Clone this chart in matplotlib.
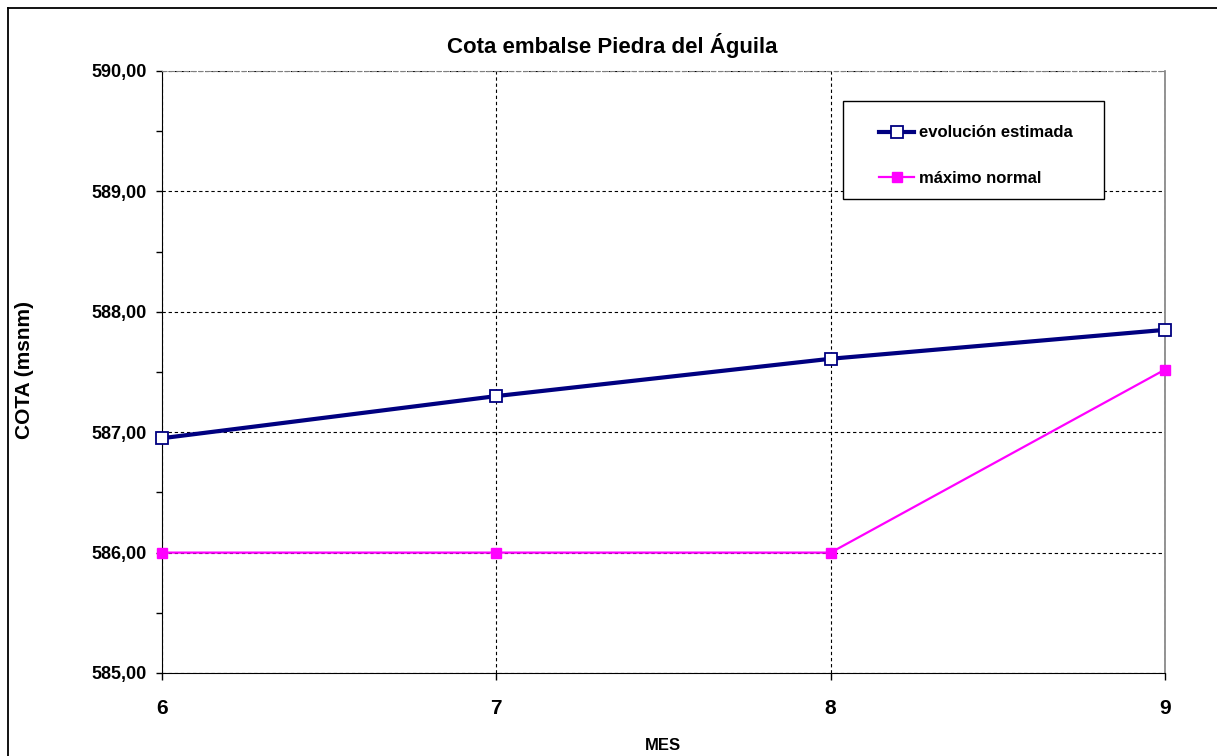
import matplotlib
matplotlib.use("Agg")
import matplotlib.pyplot as plt
from matplotlib.ticker import FuncFormatter, MultipleLocator
from matplotlib.lines import Line2D
from matplotlib.patches import Rectangle

# --- data ---
meses = [6, 7, 8, 9]
evolucion_estimada = [586.95, 587.30, 587.61, 587.85]
maximo_normal = [586.00, 586.00, 586.00, 587.52]

plt.rcParams['font.family'] = ['Liberation Sans', 'DejaVu Sans']
plt.rcParams['font.weight'] = 'bold'

W, H = 1217, 756
fig = plt.figure(figsize=(W / 100, H / 100), dpi=100)
ax = fig.add_axes([162 / W, 1 - 673 / H, (1165 - 162) / W, (673 - 71) / H])

ax.plot(meses, evolucion_estimada, color='#000080', lw=3, marker='s', ms=8,
        mfc='white', mec='#000080', mew=1.3, label='evolución estimada',
        zorder=4, clip_on=False)
ax.plot(meses, maximo_normal, color='#FF00FF', lw=1.6, marker='s', ms=7,
        mfc='#FF00FF', mec='#FF00FF', label='máximo normal',
        zorder=3, clip_on=False)

ax.set_xlim(6, 9)
ax.set_ylim(585, 590)
ax.set_xticks(meses)
ax.yaxis.set_major_locator(MultipleLocator(1))
ax.yaxis.set_minor_locator(MultipleLocator(0.5))
ax.yaxis.set_major_formatter(FuncFormatter(lambda v, p: f"{v:.2f}".replace('.', ',')))

ax.tick_params(axis='x', direction='out', length=5, width=1, pad=14, labelsize=15)
ax.tick_params(axis='y', which='both', direction='out', length=4, width=1, pad=7, labelsize=13)
for lab in ax.get_xticklabels() + ax.get_yticklabels():
    lab.set_fontweight('bold')

ax.grid(True, which='major', color='black', lw=0.8, ls=(0, (3, 2.5)))
ax.set_axisbelow(True)

ax.spines['left'].set_color('black')
ax.spines['bottom'].set_color('black')
ax.spines['right'].set_color('#808080')
ax.spines['right'].set_linewidth(1.2)
ax.spines['top'].set_color('#808080')
ax.spines['top'].set_linestyle((0, (4, 2.5)))

fig.text(612 / W, 1 - 46 / H, 'Cota embalse Piedra del Águila', ha='center', va='center',
         fontsize=16, fontweight='bold')
fig.text(25 / W, 1 - 370 / H, 'COTA (msnm)', ha='center', va='center', rotation=90,
         fontsize=15, fontweight='bold')
fig.text(663 / W, 1 - 745 / H, 'MES', ha='center', va='center',
         fontsize=12, fontweight='bold')

# legend box
fig.patches.append(Rectangle((843 / W, 1 - 199 / H), (1104 - 843) / W, (199 - 101) / H,
                             transform=fig.transFigure, fill=True, facecolor='white',
                             edgecolor='black', lw=1, zorder=5))
leg = fig.legend(loc='upper left', bbox_to_anchor=(871 / W, 1 - 117 / H), frameon=False,
                 borderpad=0, handlelength=2.1, handletextpad=0.3, labelspacing=1.85,
                 prop={'size': 12, 'weight': 'bold'})
leg.set_zorder(6)

# outer frame (left and top edges visible)
fig.add_artist(Line2D([7.5 / W, 7.5 / W], [0, 1 - 8 / H], transform=fig.transFigure,
                      color='black', lw=1.3))
fig.add_artist(Line2D([7.5 / W, 1], [1 - 8 / H, 1 - 8 / H], transform=fig.transFigure,
                      color='black', lw=1.3))

fig.savefig('out.png', dpi=100)
